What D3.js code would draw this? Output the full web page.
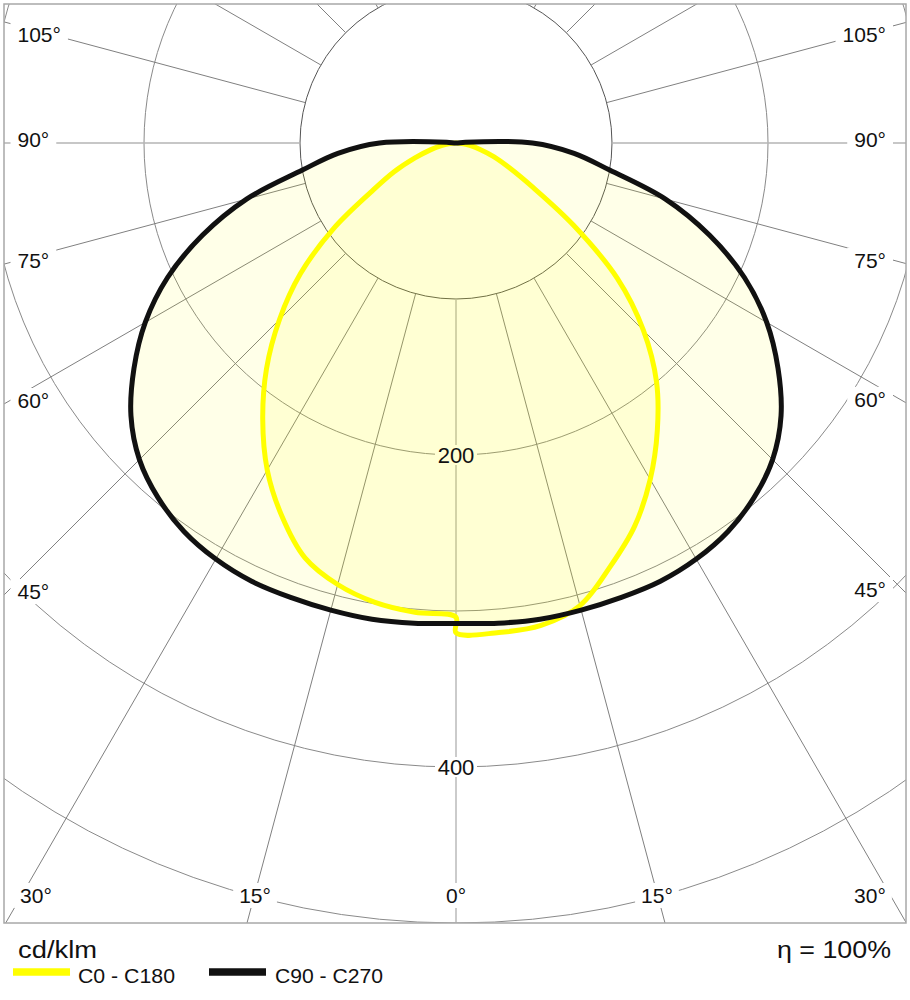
<!DOCTYPE html>
<html>
<head>
<meta charset="utf-8">
<script src="https://cdn.jsdelivr.net/npm/d3@7"></script>
<style>
  html, body { margin: 0; padding: 0; background: #fff; }
  svg { display: block; }
  text { font-family: "Liberation Sans", Arial, sans-serif; fill: #111; }
</style>
</head>
<body>
<svg id="chart" width="910" height="1000"></svg>
<script>
// ---- data (cd/klm) ----
const gamma = [0,5,10,15,20,25,30,35,40,45,50,55,60,65,70,75,80,85,90,95,100];
const c90  = [308,309,310,310,310,310,308,304,297,287,272,252,230,204,173,139,100,76,49,6,0];
const c270 = [308,309,310,310,310,310,308,304,297,287,272,252,230,204,173,139,100,76,49,6,0];
const c0   = [314,315,314,307,289,271,249,225,200,170,135,92,57,38,26,16,9,4,0];
const c180 = [304,302,299,293,283,264,242,216,189,160,130,96,63,44,28,17,9,4,0];
const ringValues = [100,200,300,400,500];
const ringLabels = [200,400];
const sideAngleLabels = [45,60,75,90,105];
const bottomAngleLabels = [0,15,30];
const legendItems = ["C0 - C180","C90 - C270"];
const unitLabel = "cd/klm";
const effLabel = "η = 100%";

// ---- layout ----
const W = 910, H = 1000;
const cx = 456, cy = 143;
const frame = {x0: 4, y0: 4, x1: 906, y1: 923};
const deg = Math.PI / 180;
const r = d3.scaleLinear().domain([0, 500]).range([0, 780]);

const svg = d3.select("#chart");
svg.append("rect").attr("width", W).attr("height", H).attr("fill", "#fff");

const defs = svg.append("defs");
defs.append("clipPath").attr("id", "fclip").append("rect")
  .attr("x", frame.x0).attr("y", frame.y0)
  .attr("width", frame.x1 - frame.x0).attr("height", frame.y1 - frame.y0);

const grid = svg.append("g").attr("clip-path", "url(#fclip)");

// rings
grid.selectAll("circle.ring").data(ringValues).join("circle")
  .attr("class", "ring")
  .attr("cx", cx).attr("cy", cy).attr("r", d => r(d))
  .attr("fill", "none")
  .attr("stroke", d => d === 100 ? "#555" : "#8a8a8a")
  .attr("stroke-width", 1);

// spokes every 15 degrees, starting at the first ring
const spokes = [];
for (let a = 0; a <= 180; a += 15) {
  const sides = (a === 0 || a === 180) ? [1] : [-1, 1];
  sides.forEach(s => spokes.push({a, s}));
}
grid.selectAll("line.spoke").data(spokes).join("line")
  .attr("class", "spoke")
  .attr("x1", d => cx + d.s * r(100) * Math.sin(d.a * deg))
  .attr("y1", d => cy + r(100) * Math.cos(d.a * deg))
  .attr("x2", d => cx + d.s * 1400 * Math.sin(d.a * deg))
  .attr("y2", d => cy + 1400 * Math.cos(d.a * deg))
  .attr("stroke", d => (d.a === 0 || d.a === 90) ? "#b5b5b5" : "#808080")
  .attr("stroke-width", d => (d.a === 0 || d.a === 90) ? 1.4 : 1);

// ---- label positions ----
const sideLabels = [];
sideAngleLabels.forEach(a => {
  [-1, 1].forEach(s => {
    const t = s < 0 ? (cx - frame.x0) / Math.sin(a * deg) : (frame.x1 - cx) / Math.sin(a * deg);
    let yb = cy + t * Math.cos(a * deg) + 4;
    yb = Math.max(yb, 42);
    sideLabels.push({a, s, y: yb});
  });
});
const bottomLabels = [];
bottomAngleLabels.forEach(a => {
  const sides = a === 0 ? [1] : [-1, 1];
  sides.forEach(s => {
    let x = cx + s * (893 - cy) * Math.tan(a * deg);
    x = Math.max(36, Math.min(870, x));
    bottomLabels.push({a, s, x});
  });
});

const labelFont = 21;

function addLabel(g, x, y, txt, anchor, size) {
  return g.append("text").attr("x", x).attr("y", y)
    .attr("text-anchor", anchor).attr("font-size", size).text(txt);
}

// curves
const lineGen = d3.lineRadial()
  .angle(d => d.a).radius(d => r(d.v))
  .curve(d3.curveCatmullRomClosed.alpha(0.5));

function curvePoints(right, left) {
  const pts = [];
  right.forEach((v, i) => pts.push({a: Math.PI - gamma[i] * deg, v}));
  for (let i = left.length - 2; i >= 0; i--) {
    if (i === 0 && left[0] === right[0]) continue;
    pts.push({a: Math.PI + gamma[i] * deg, v: left[i]});
  }
  return pts;
}
const blackPts = curvePoints(c90, c270);
const yellowPts = curvePoints(c0, c180);

// number label masks (drawn before fills so they pick up fill colour)
const maskG = svg.append("g");
ringLabels.forEach(v => {
  maskG.append("rect").attr("x", cx - 21).attr("y", cy + r(v) - 10)
    .attr("width", 42).attr("height", 20).attr("fill", "#fff");
});

const fillG = svg.append("g").attr("transform", `translate(${cx},${cy})`);
fillG.append("path").attr("d", lineGen(blackPts))
  .attr("fill", "#ffff00").attr("fill-opacity", 0.09).attr("stroke", "none");
fillG.append("path").attr("d", lineGen(yellowPts))
  .attr("fill", "#ffff00").attr("fill-opacity", 0.09).attr("stroke", "none");

const strokeG = svg.append("g").attr("transform", `translate(${cx},${cy})`);
strokeG.append("path").attr("d", lineGen(yellowPts))
  .attr("fill", "none").attr("stroke", "#ffff00").attr("stroke-width", 5)
  .attr("stroke-linejoin", "miter");
strokeG.append("path").attr("d", lineGen(blackPts))
  .attr("fill", "none").attr("stroke", "#111").attr("stroke-width", 5)
  .attr("stroke-linejoin", "round");

// frame
svg.append("rect")
  .attr("x", frame.x0).attr("y", frame.y0)
  .attr("width", frame.x1 - frame.x0).attr("height", frame.y1 - frame.y0)
  .attr("fill", "none").attr("stroke", "#a8a8a8").attr("stroke-width", 1.5);

// angle labels with white masks
const angMaskG = svg.append("g");
const angTextG = svg.append("g");
sideLabels.forEach(d => {
  const txt = d.a + "°";
  const t = addLabel(angTextG, d.s < 0 ? 17.5 : 886, d.y, txt, d.s < 0 ? "start" : "end", labelFont);
  const bb = t.node().getBBox();
  angMaskG.append("rect").attr("x", bb.x - 7).attr("y", bb.y - 1)
    .attr("width", bb.width + 14).attr("height", bb.height + 2).attr("fill", "#fff");
});
bottomLabels.forEach(d => {
  const txt = d.a + "°";
  const t = addLabel(angTextG, d.x, 903, txt, "middle", labelFont);
  const bb = t.node().getBBox();
  angMaskG.append("rect").attr("x", bb.x - 6).attr("y", bb.y - 1)
    .attr("width", bb.width + 12).attr("height", bb.height + 2).attr("fill", "#fff");
});

// intensity labels
ringLabels.forEach(v => {
  addLabel(svg, cx, cy + r(v) + 8, String(v), "middle", 22);
});

// legend
svg.append("text").attr("x", 18).attr("y", 958).attr("font-size", 23)
  .attr("textLength", 79).attr("lengthAdjust", "spacingAndGlyphs").text(unitLabel);
svg.append("text").attr("x", 777).attr("y", 958).attr("font-size", 23)
  .attr("textLength", 114).attr("lengthAdjust", "spacingAndGlyphs").text(effLabel);

const legendColors = ["#ffff00", "#111"];
const legendX = [13, 209];
const legendTextX = [78, 275];
const legendTextW = [97, 108];
legendItems.forEach((name, i) => {
  svg.append("line").attr("x1", legendX[i]).attr("x2", legendX[i] + 57)
    .attr("y1", 972).attr("y2", 972)
    .attr("stroke", legendColors[i]).attr("stroke-width", 7.5);
  svg.append("text").attr("x", legendTextX[i]).attr("y", 983).attr("font-size", 20)
    .attr("textLength", legendTextW[i]).attr("lengthAdjust", "spacingAndGlyphs").text(name);
});
</script>
</body>
</html>
